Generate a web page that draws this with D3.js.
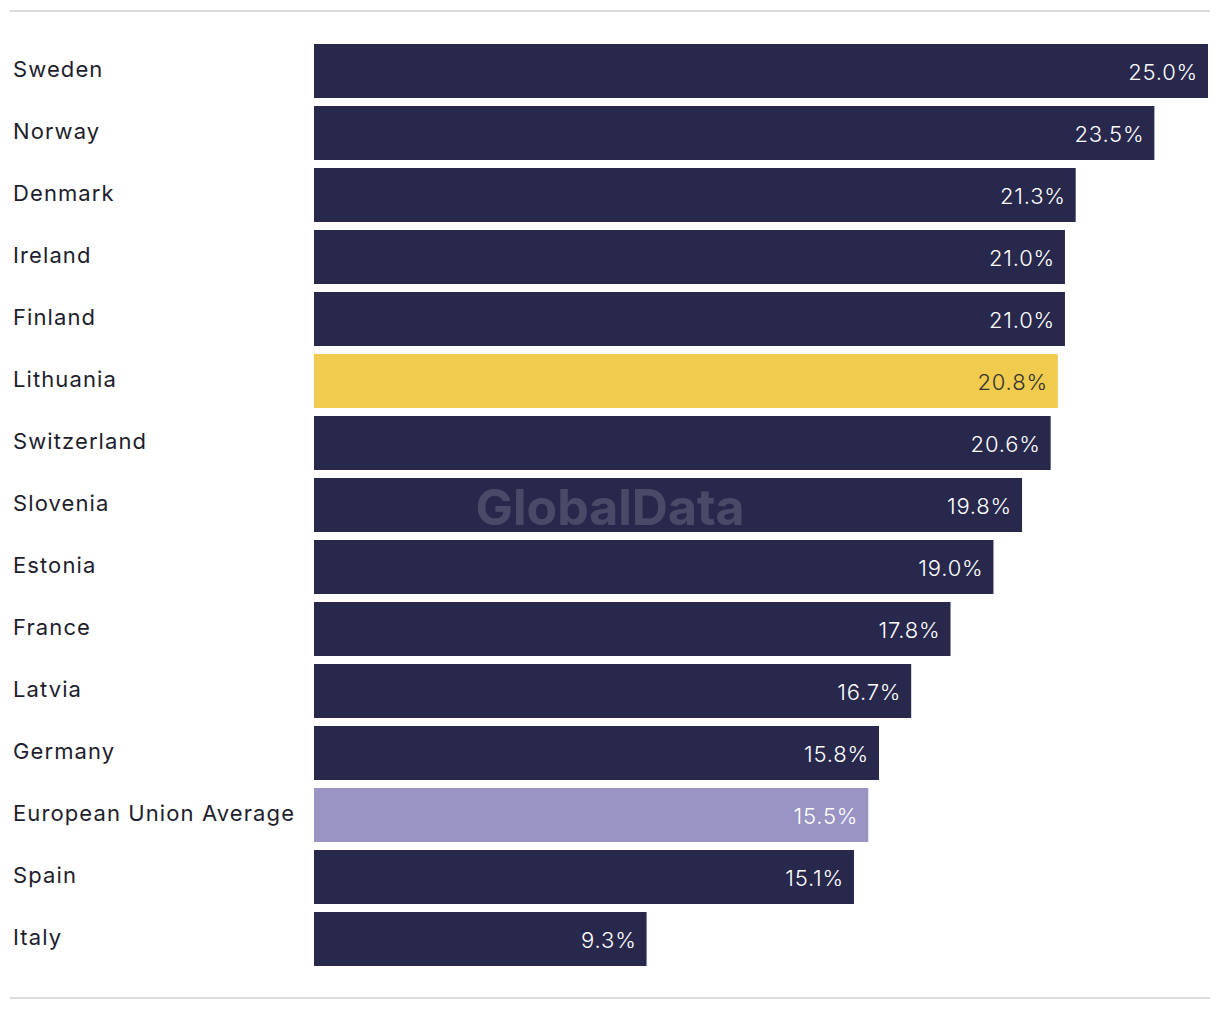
<!DOCTYPE html>
<html><head><meta charset="utf-8">
<script src="https://cdn.jsdelivr.net/npm/d3@7"></script>
<style>body{margin:0;background:#fff;}svg{display:block;}</style>
</head><body>
<svg id="c" width="1220" height="1010"></svg>
<script>
const countries = ["Sweden","Norway","Denmark","Ireland","Finland","Lithuania","Switzerland","Slovenia","Estonia","France","Latvia","Germany","European Union Average","Spain","Italy"];
const values = [25.0,23.5,21.3,21.0,21.0,20.8,20.6,19.8,19.0,17.8,16.7,15.8,15.5,15.1,9.3];
const highlight = {"Lithuania":"#f0cb4d","European Union Average":"#9a94c4"};

const svg = d3.select("#c");
const font = "Inter, 'Noto Sans', sans-serif";
const x = d3.scaleLinear().domain([0,25]).range([314,1208]);
const y = d3.scaleBand().domain(countries).range([44-4,966+4]).paddingInner(8/62).paddingOuter(4/62);

svg.append("line").attr("x1",10).attr("x2",1210).attr("y1",11).attr("y2",11).attr("stroke","#dcdcdc").attr("stroke-width",2);
svg.append("line").attr("x1",10).attr("x2",1210).attr("y1",998).attr("y2",998).attr("stroke","#dcdcdc").attr("stroke-width",2);

const data = countries.map((c,i)=>({c, v: values[i]}));
svg.selectAll("rect.bar").data(data).join("rect").attr("class","bar")
  .attr("x",x(0)).attr("y",d=>y(d.c)).attr("width",d=>x(d.v)-x(0)).attr("height",y.bandwidth())
  .attr("fill",d=>highlight[d.c]||"#28284c");

svg.selectAll("text.cat").data(data).join("text").attr("class","cat")
  .attr("x",13).attr("y",d=>y(d.c)+y.bandwidth()/2-2).attr("dy","0.35em")
  .attr("font-family",font).attr("font-size",22).attr("letter-spacing","1.1px").attr("fill","#1e1e2e").text(d=>d.c);

svg.selectAll("text.val").data(data).join("text").attr("class","val")
  .attr("x",d=>x(d.v)-10).attr("y",d=>y(d.c)+y.bandwidth()/2+1).attr("dy","0.35em")
  .attr("text-anchor","end").attr("font-family",font).attr("font-size",22).attr("font-weight",300)
  .attr("letter-spacing","0.8px")
  .attr("fill",d=>d.c==="Lithuania"?"#333333":"#ffffff").text(d=>d.v.toFixed(1)+"%");

svg.append("text").attr("x",610).attr("y",507).attr("dy","0.35em").attr("text-anchor","middle")
  .attr("font-family",font).attr("font-weight",700).attr("font-size",50)
  .attr("fill","#ffffff").attr("fill-opacity",0.16).text("GlobalData");
</script>
</body></html>
